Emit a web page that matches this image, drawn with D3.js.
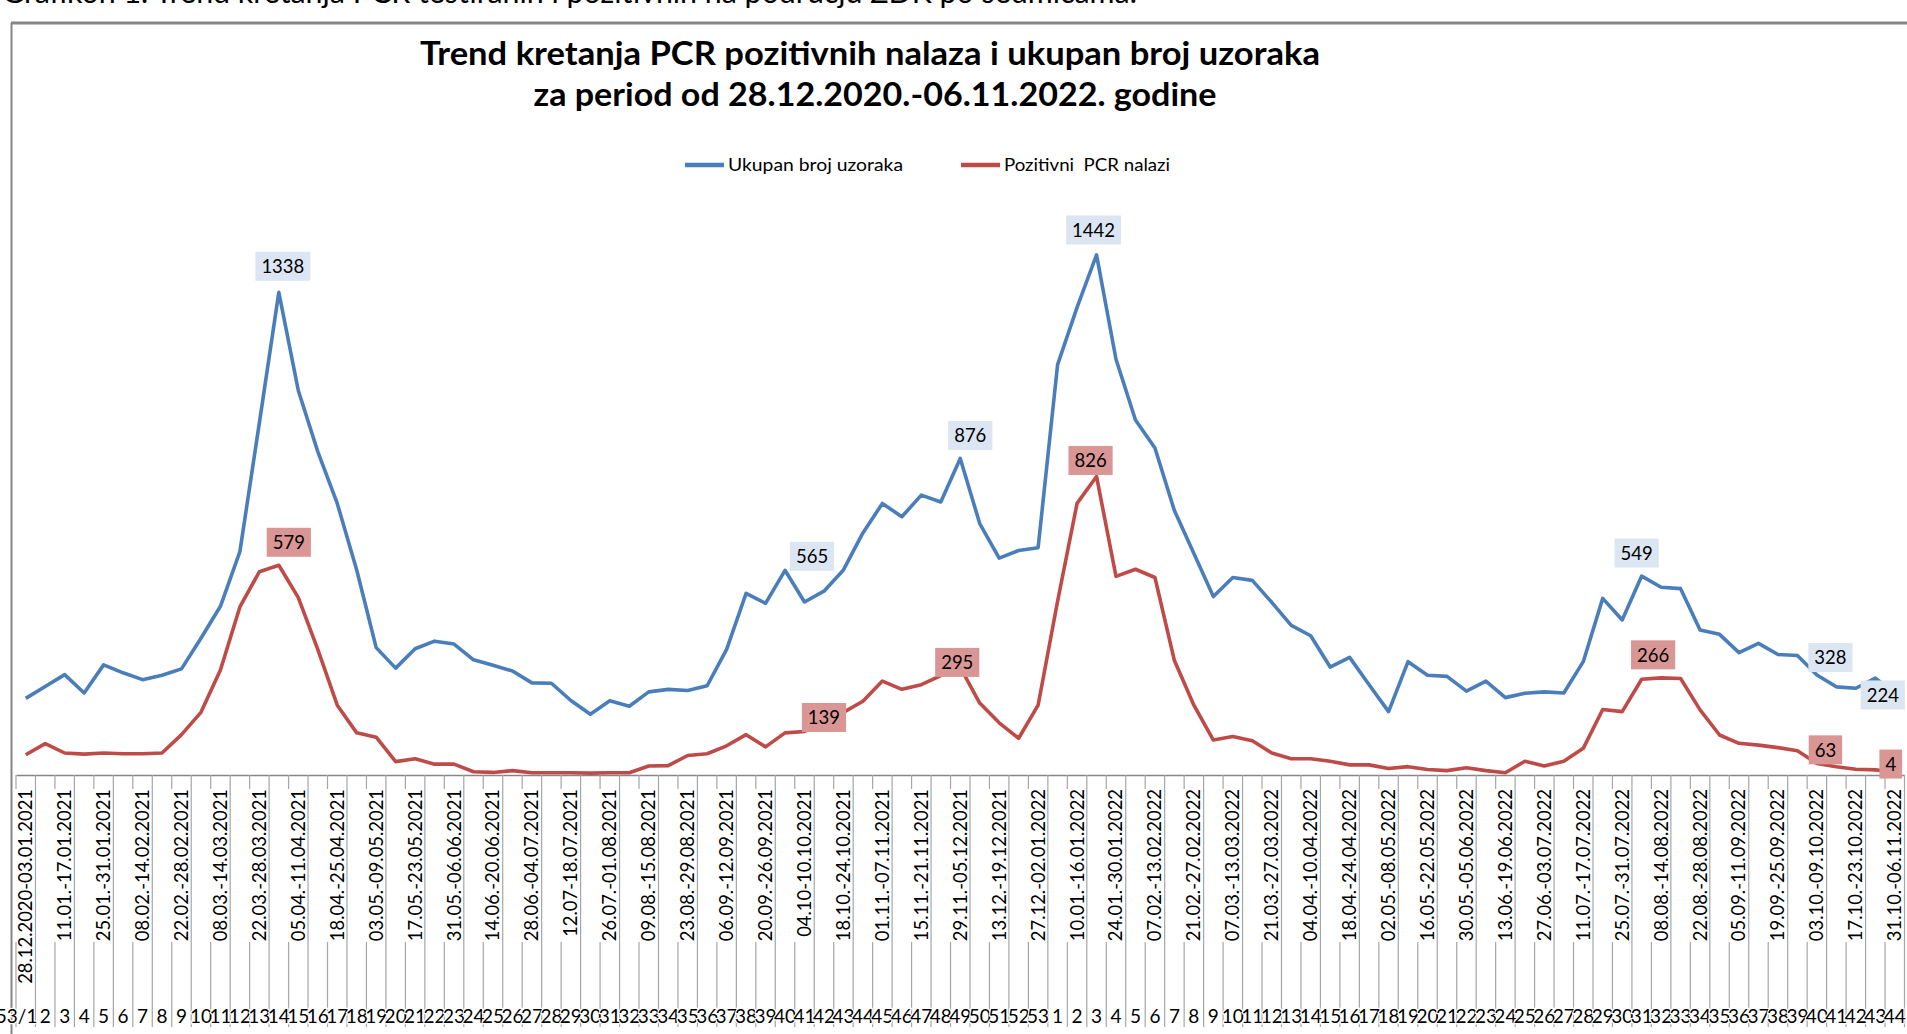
<!DOCTYPE html>
<html>
<head>
<meta charset="utf-8">
<script src="https://cdn.jsdelivr.net/npm/d3@7/dist/d3.min.js"></script>
<style>
  body { margin: 0; background: #fff; }
  svg { display: block; }
  text { font-family: Lato, "Open Sans", sans-serif; fill: #000; }
</style>
</head>
<body>
<div id="chart-area"></div>
<script>
const WIDTH = 1907
const HEIGHT = 1034
const PLOT = { LEFT: 16, RIGHT: 1904.5, BASE: 773.5, TOP: 198.1, AXIS: 775 }

// week numbers (bottom row of the category axis)
const weeks = [
  "53/1", "2", "3", "4", "5", "6", "7", "8", "9", "10", "11", "12", "13", "14", "15", "16", "17", "18",
  "19", "20", "21", "22", "23", "24", "25", "26", "27", "28", "29", "30", "31", "32", "33", "34", "35",
  "36", "37", "38", "39", "40", "41", "42", "43", "44", "45", "46", "47", "48", "49", "50", "51", "52", "53",
  "1", "2", "3", "4", "5", "6", "7", "8", "9", "10", "11", "12", "13", "14", "15", "16", "17", "18", "19",
  "20", "21", "22", "23", "24", "25", "26", "27", "28", "29", "30", "31", "32", "33", "34", "35", "36",
  "37", "38", "39", "40", "41", "42", "43", "44"
]

// date ranges, shown on every second week
const dateLabels = [
  "28.12.2020-03.01.2021", "11.01.-17.01.2021", "25.01.-31.01.2021", "08.02.-14.02.2021",
  "22.02.-28.02.2021", "08.03.-14.03.2021", "22.03.-28.03.2021", "05.04.-11.04.2021",
  "18.04.-25.04.2021", "03.05.-09.05.2021", "17.05.-23.05.2021", "31.05.-06.06.2021",
  "14.06.-20.06.2021", "28.06.-04.07.2021", "12.07-18.07.2021", "26.07.-01.08.2021",
  "09.08.-15.08.2021", "23.08.-29.08.2021", "06.09.-12.09.2021", "20.09.-26.09.2021",
  "04.10-10.10.2021", "18.10.-24.10.2021", "01.11.-07.11.2021", "15.11.-21.11.2021",
  "29.11.-05.12.2021", "13.12.-19.12.2021", "27.12.-02.01.2022", "10.01.-16.01.2022",
  "24.01.-30.01.2022", "07.02.-13.02.2022", "21.02.-27.02.2022", "07.03.-13.03.2022",
  "21.03.-27.03.2022", "04.04.-10.04.2022", "18.04.-24.04.2022", "02.05.-08.05.2022",
  "16.05.-22.05.2022", "30.05.-05.06.2022", "13.06.-19.06.2022", "27.06.-03.07.2022",
  "11.07.-17.07.2022", "25.07.-31.07.2022", "08.08.-14.08.2022", "22.08.-28.08.2022",
  "05.09.-11.09.2022", "19.09.-25.09.2022", "03.10.-09.10.2022", "17.10.-23.10.2022",
  "31.10.-06.11.2022"
]

// Ukupan broj uzoraka
const uzorci = [
  209, 242, 275, 224, 302, 280, 261, 273, 291, 376, 465, 617, 975, 1338, 1065, 895, 751, 566,
  350, 293, 347, 368, 360, 316, 301, 285, 252, 251, 203, 165, 202, 187, 227, 234, 231, 244,
  345, 501, 473, 565, 477, 507, 566, 669, 751, 714, 774, 755, 876, 695, 599, 620, 628,
  1137, 1296, 1442, 1152, 983, 905, 731, 612, 492, 545, 537, 476, 412, 383, 296, 323, 247,
  172, 311, 273, 270, 229, 257, 211, 223, 227, 224, 311, 487, 427, 549, 518, 514, 399, 387,
  336, 362, 331, 328, 274, 241, 237, 265, 224
]

// Pozitivni PCR nalazi
const pozitivni = [
  52, 83, 57, 54, 57, 55, 55, 57, 108, 170, 288, 463, 561, 579, 489, 345, 190, 113,
  101, 33, 41, 26, 26, 5, 3, 8, 2, 2, 2, 1, 2, 2, 21, 22, 50, 55,
  77, 108, 74, 113, 117, 139, 170, 201, 257, 234, 247, 272, 295, 196, 141, 98, 190,
  479, 751, 826, 548, 568, 545, 314, 190, 93, 103, 91, 57, 41, 41, 34, 24, 24,
  14, 19, 11, 8, 16, 8, 2, 34, 21, 34, 70, 178, 172, 262, 266, 264, 177, 107,
  84, 79, 72, 63, 28, 19, 12, 10, 4
]

// which points carry a data label
const uzorciLabels = [13, 39, 48, 55, 83, 91, 96]
const pozitivniLabels = [13, 41, 48, 55, 84, 91, 96]

const BLUE = "#4a7ebb"
const RED = "#be4b48"

const svg = d3.select("#chart-area").append("svg")
  .attr("width", WIDTH)
  .attr("height", HEIGHT)

// fit a text to a width by changing its font size
function fitText(sel, target) {
  const w = sel.node().getComputedTextLength()
  const fs = parseFloat(sel.attr("font-size"))
  sel.attr("font-size", (fs * target / w).toFixed(2))
}

// caption above the frame (cut off by the page top)
svg.append("text")
  .attr("x", 2)
  .attr("y", 3)
  .attr("font-size", 21)
  .text("Grafikon 1. Trend kretanja PCR testiranih i pozitivnih na području ZDK po sedmicama.")
  .call(fitText, 1135)

// frame
svg.append("line")
  .attr("x1", 11).attr("x2", WIDTH)
  .attr("y1", 23).attr("y2", 23)
  .attr("stroke", "#868686").attr("stroke-width", 3)
svg.append("line")
  .attr("x1", 11.5).attr("x2", 11.5)
  .attr("y1", 23).attr("y2", HEIGHT)
  .attr("stroke", "#868686").attr("stroke-width", 2)

// title (narrow like the original font)
svg.append("text")
  .attr("x", 870).attr("y", 65)
  .attr("text-anchor", "middle")
  .attr("font-weight", "bold")
  .attr("font-size", 32)
  .attr("textLength", 900)
  .attr("lengthAdjust", "spacingAndGlyphs")
  .text("Trend kretanja PCR pozitivnih nalaza i ukupan broj uzoraka")
svg.append("text")
  .attr("x", 875).attr("y", 106)
  .attr("text-anchor", "middle")
  .attr("font-weight", "bold")
  .attr("font-size", 32)
  .attr("textLength", 683)
  .attr("lengthAdjust", "spacingAndGlyphs")
  .text("za period od 28.12.2020.-06.11.2022. godine")

// Legend
const legendItems = [
  { name: "Ukupan broj uzoraka", color: BLUE, x: 685, w: 175 },
  { name: "Pozitivni  PCR nalazi", color: RED, x: 961, w: 166 }
]
legendItems.forEach(item => {
  svg.append("line")
    .attr("x1", item.x).attr("x2", item.x + 39)
    .attr("y1", 165).attr("y2", 165)
    .attr("stroke", item.color).attr("stroke-width", 4.5)
  svg.append("text")
    .attr("x", item.x + 43).attr("y", 171)
    .attr("font-size", 18)
    .attr("textLength", item.w)
    .attr("lengthAdjust", "spacingAndGlyphs")
    .style("white-space", "pre")
    .text(item.name)
})

// Scales
const x = d3.scaleBand()
  .domain(d3.range(weeks.length))
  .range([PLOT.LEFT, PLOT.RIGHT])
  .paddingInner(0).paddingOuter(0)
const cx = i => x(i) + x.bandwidth() / 2

const y = d3.scaleLinear()
  .domain([0, 1600])
  .range([PLOT.BASE, PLOT.TOP])

// X Axis (line only, the category labels are drawn below)
const xAxisCall = d3.axisBottom(x).tickSize(0).tickSizeOuter(0).tickFormat("")
const xAxis = svg.append("g")
  .attr("transform", `translate(0, ${PLOT.AXIS})`)
  .call(xAxisCall)
xAxis.select(".domain").attr("stroke", "#868686").attr("stroke-width", 1.5)

// category separators
const bounds = d3.range(weeks.length + 1).map(k => PLOT.LEFT + k * x.step())
const sep = svg.append("g").attr("stroke", "#a6a6a6").attr("stroke-width", 1.2)
bounds.forEach((bx, k) => {
  sep.append("line").attr("x1", bx).attr("x2", bx).attr("y1", PLOT.AXIS).attr("y2", 789)
  sep.append("line").attr("x1", bx).attr("x2", bx).attr("y1", 942).attr("y2", 1027)
  if (k % 2 === 1) {
    sep.append("line").attr("x1", bx).attr("x2", bx).attr("y1", 789).attr("y2", 942)
  }
})

// date labels
dateLabels.forEach((label, j) => {
  svg.append("text")
    .attr("transform", `translate(${cx(j * 2)}, 789) rotate(-90)`)
    .attr("text-anchor", "end")
    .attr("dy", "0.35em")
    .attr("font-size", 18.4)
    .text(label)
})

// week numbers
svg.append("g")
  .selectAll("text")
  .data(weeks)
  .enter().append("text")
    .attr("x", (d, i) => i === 0 ? x(1) + 2 : cx(i))
    .attr("y", 1023)
    .attr("text-anchor", (d, i) => i === 0 ? "end" : "middle")
    .attr("font-size", 19)
    .attr("stroke", "#fff")
    .attr("stroke-width", 2.5)
    .attr("paint-order", "stroke")
    .text(d => d)

// Lines
const line = d3.line()
  .x((d, i) => cx(i))
  .y(d => y(d))

svg.append("path")
  .datum(uzorci)
  .attr("fill", "none")
  .attr("stroke", BLUE)
  .attr("stroke-width", 3.6)
  .attr("stroke-linejoin", "round")
  .attr("d", line)

svg.append("path")
  .datum(pozitivni)
  .attr("fill", "none")
  .attr("stroke", RED)
  .attr("stroke-width", 3.6)
  .attr("stroke-linejoin", "round")
  .attr("d", line)

// data labels, offsets from their point
const blueOffsets = { 13: [4, -26], 39: [27, -14], 48: [10, -23], 55: [-3, -25], 83: [-5, -23], 91: [33, 2], 96: [-12, 2] }
const redOffsets = { 13: [10, -23], 41: [0, -6], 48: [-3, -5], 55: [-6, -16], 84: [-8, -23], 91: [28, -1], 96: [-4, -8] }

function addLabels(values, idx, offsets, bg) {
  idx.forEach(i => {
    const [dx, dy] = offsets[i]
    const g = svg.append("g")
      .attr("transform", `translate(${cx(i) + dx}, ${y(values[i]) + dy})`)
    const t = g.append("text")
      .attr("text-anchor", "middle")
      .attr("dy", "0.36em")
      .attr("font-size", 18.5)
      .text(values[i])
    const w = t.node().getComputedTextLength()
    g.insert("rect", "text")
      .attr("x", -w / 2 - 6)
      .attr("y", -14.5)
      .attr("width", w + 12)
      .attr("height", 29)
      .attr("fill", bg)
  })
}
addLabels(uzorci, uzorciLabels, blueOffsets, "#dce6f2")
addLabels(pozitivni, pozitivniLabels, redOffsets, "#d99694")
</script>
</body>
</html>
